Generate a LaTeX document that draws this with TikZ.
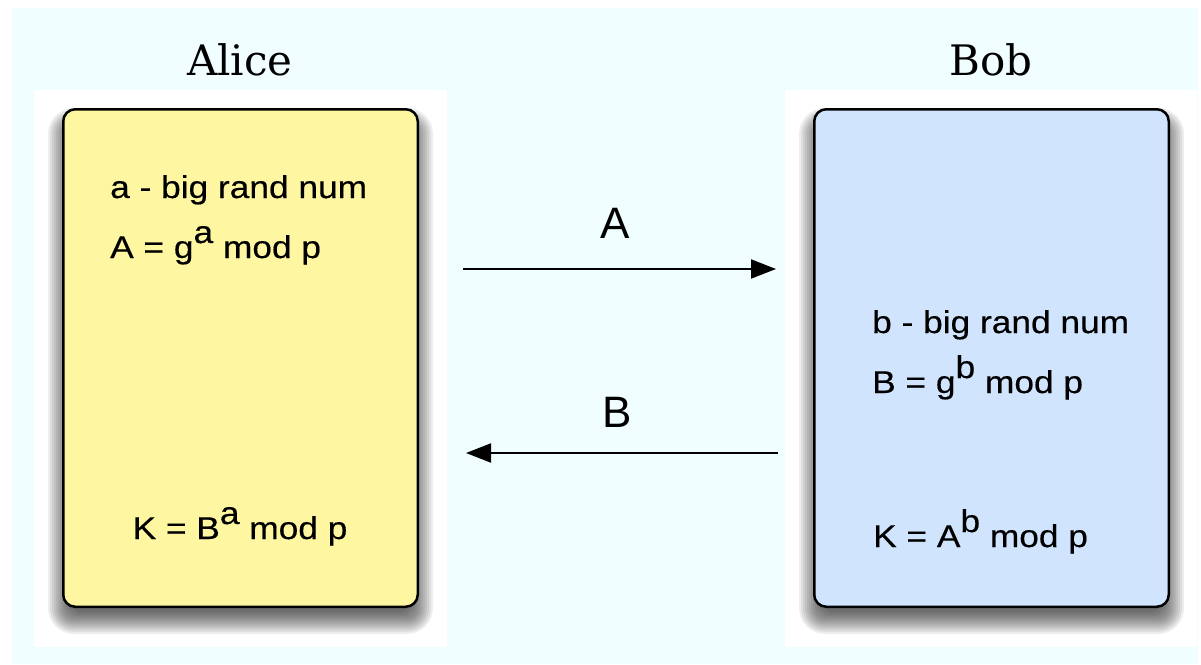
\documentclass[tikz,border=0pt]{standalone}
\usepackage{fontspec}
\setmainfont{Liberation Sans}
\newfontfamily\bodyfont[FakeStretch=1.12,FakeBold=0.4]{Liberation Sans}
\newfontfamily\titlefont{DejaVu Serif}
\usetikzlibrary{arrows.meta}

\definecolor{bgcyan}{RGB}{240,254,255}
\definecolor{alicefill}{RGB}{255,246,162}
\definecolor{bobfill}{RGB}{208,228,254}

% exponent set at full size, raised above the baseline
\newcommand\raisedexp[1]{\raisebox{15pt}{#1}}

\tikzset{
  party/.style={draw=black, line width=2.5pt, rounded corners=12pt,
    minimum width=354.5pt, minimum height=497.5pt, inner sep=0pt},
  title/.style={anchor=base, inner sep=0pt,
    font=\titlefont\fontsize{42}{50}\selectfont},
  calc/.style={anchor=base west, inner sep=0pt,
    font=\bodyfont\fontsize{31.5}{36}\selectfont},
  key/.style={anchor=base, inner sep=0pt,
    font=\bodyfont\fontsize{31.5}{36}\selectfont},
  msglabel/.style={anchor=base, inner sep=0pt,
    font=\fontsize{44}{50}\selectfont},
  msg/.style={line width=2pt, -{Triangle[length=25pt,width=19pt]}},
}

\begin{document}
\begin{tikzpicture}[x=1pt,y=-1pt]
\useasboundingbox (0,0) rectangle (1201,664);
\fill[white] (0,0) rectangle (1201,664);
\fill[bgcyan] (12,8) rectangle (1198,664);

% white panels behind each party
\fill[white] (34,90) rectangle (447,647);
\fill[white] (785,90) rectangle (1197,647);

% soft drop shadows, mostly below the boxes
\foreach \lx/\rx in {62/419, 813/1170}{
  \foreach \s in {-8,-6,...,14}{
    \pgfmathsetmacro\rc{12+max(\s,0)}
    \fill[black, opacity=0.065, rounded corners=\rc pt]
      (\lx-\s, 108-\s+14) rectangle (\rx+\s, 608+\s+12);
  }
}

% the two parties
\node[party, fill=alicefill] (alice) at (240.5,358) {};
\node[party, fill=bobfill] (bob) at (991.5,358) {};

\node[title] (alicename) at (240,75) {Alice};
\node[title] (bobname) at (991,75) {Bob};

% Alice's side
\node[calc] (arand) at (110,198) {a - big rand num};
\node[calc] (apub) at (110,258) {A = g\raisedexp{a} mod p};
\node[key] (akey) at (240,539) {K = B\raisedexp{a} mod p};

% Bob's side
\node[calc] (brand) at (872,333) {b - big rand num};
\node[calc] (bpub) at (872,393) {B = g\raisedexp{b} mod p};
\node[calc] (bkey) at (873,547) {K = A\raisedexp{b} mod p};

% exchanged public values
\coordinate (sendA) at (463,269);
\coordinate (recvA) at (776,269);
\coordinate (sendB) at (778,453);
\coordinate (recvB) at (466,453);
\draw[msg] (sendA) -- (recvA);
\draw[msg] (sendB) -- (recvB);
\node[msglabel] (labA) at (615,238) {A};
\node[msglabel] (labB) at (617,427) {B};
\end{tikzpicture}
\end{document}
